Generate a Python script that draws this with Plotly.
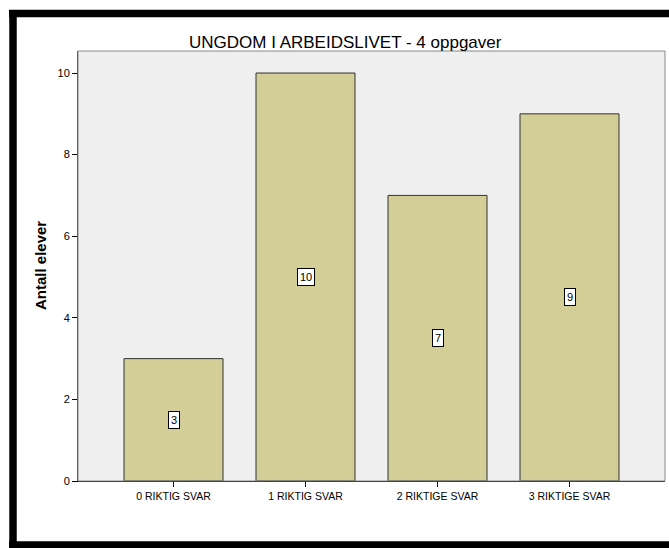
import plotly.graph_objects as go

# Chart data
categories = ["0 RIKTIG SVAR", "1 RIKTIG SVAR", "2 RIKTIGE SVAR", "3 RIKTIGE SVAR"]
counts = [3, 10, 7, 9]
y_ticks = [0, 2, 4, 6, 8, 10]

title_text = "UNGDOM I ARBEIDSLIVET - 4 oppgaver"
y_title = "Antall elever"

FONT = "Arial, Liberation Sans, sans-serif"
W, H = 669, 548
L, R, T, B = 78, 4, 51, 67          # margins -> plot area 78..665 x 51..481
PW, PH = W - L - R, H - T - B


def px(x):
    return (x - L) / PW


def py(y):
    return (H - B - y) / PH


fig = go.Figure()
fig.add_trace(go.Bar(
    x=categories,
    y=counts,
    width=0.75,
    marker=dict(color="#D3CE97", line=dict(color="#333333", width=1)),
    hoverinfo="x+y",
))

# value labels in white boxes at half bar height
annotations = [
    dict(x=c, y=v / 2, xref="x", yref="y", text=str(v), showarrow=False,
         font=dict(family=FONT, size=11, color="black"),
         bgcolor="white", bordercolor="black", borderwidth=1, borderpad=2)
    for c, v in zip(categories, counts)
]
annotations.append(dict(
    x=px(345), y=py(42), xref="paper", yref="paper", text=title_text,
    showarrow=False, xanchor="center", yanchor="middle",
    font=dict(family=FONT, size=17, color="black")))
annotations.append(dict(
    x=px(40), y=0.5, xref="paper", yref="paper", text="<b>" + y_title + "</b>",
    showarrow=False, textangle=-90, xanchor="center", yanchor="middle",
    font=dict(family=FONT, size=15, color="black")))

frame = dict(color="black", width=7.5)
shapes = [
    # thin grey frame around the plot area
    dict(type="rect", xref="paper", yref="paper", x0=0, y0=0, x1=1, y1=1,
         line=dict(color="#8a8a8a", width=1), layer="above"),
    # heavy black outer frame: left, top and bottom edges
    dict(type="line", xref="paper", yref="paper",
         x0=px(13), x1=px(13), y0=py(10), y1=py(548), line=frame),
    dict(type="line", xref="paper", yref="paper",
         x0=px(9), x1=px(669), y0=py(13.5), y1=py(13.5), line=frame),
    dict(type="line", xref="paper", yref="paper",
         x0=px(9), x1=px(669), y0=py(545), y1=py(545), line=frame),
]

fig.update_layout(
    width=W, height=H,
    margin=dict(l=L, r=R, t=T, b=B, pad=0),
    paper_bgcolor="white",
    plot_bgcolor="#EFEFEF",
    showlegend=False,
    annotations=annotations,
    shapes=shapes,
    font=dict(family=FONT, color="black"),
)
fig.update_xaxes(
    range=[-0.7235, 3.7235], showgrid=False, zeroline=False,
    showline=True, linecolor="black", linewidth=1,
    ticks="outside", ticklen=5, tickcolor="black",
    tickfont=dict(family=FONT, size=10.5, color="black"),
)
fig.update_yaxes(
    range=[0, 10.54], tickvals=y_ticks, showgrid=False, zeroline=False,
    showline=True, linecolor="#333333", linewidth=1,
    ticks="outside", ticklen=5, tickcolor="black",
    tickfont=dict(family=FONT, size=11, color="black"),
)

# keep the page free of scrollbars
page_css = ("document.documentElement.style.overflow='hidden';"
            "document.body.style.overflow='hidden';"
            "document.body.style.margin='0';")

fig.write_html("out.html", post_script=page_css,
               config={"displayModeBar": False})
